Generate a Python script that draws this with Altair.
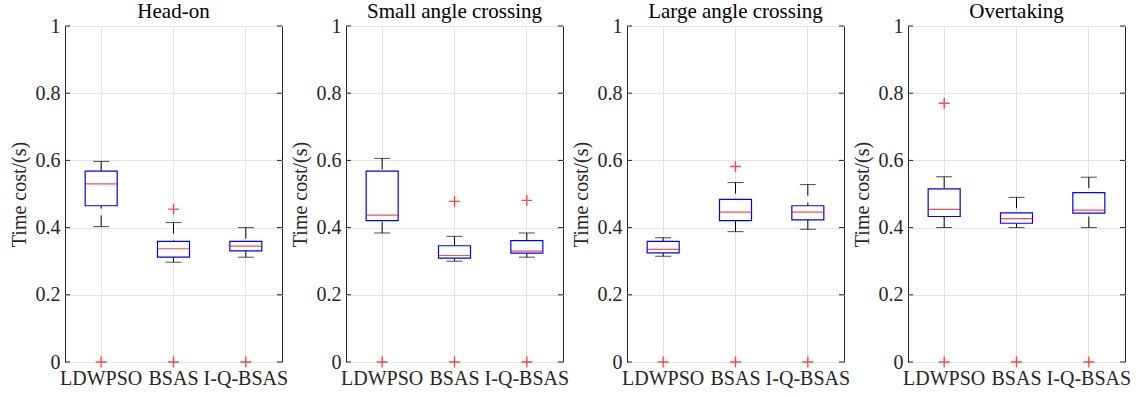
import altair as alt
import pandas as pd

# Boxplot statistics of computation time per encounter scenario and method
scenarios = ["Head-on", "Small angle crossing", "Large angle crossing", "Overtaking"]
methods = ["LDWPSO", "BSAS", "I-Q-BSAS"]

whisker_low = [
    [0.403, 0.297, 0.312],
    [0.384, 0.300, 0.312],
    [0.315, 0.388, 0.395],
    [0.400, 0.400, 0.400],
]
quartile_1 = [
    [0.465, 0.312, 0.331],
    [0.421, 0.309, 0.324],
    [0.325, 0.421, 0.423],
    [0.433, 0.413, 0.443],
]
median = [
    [0.530, 0.337, 0.345],
    [0.437, 0.317, 0.330],
    [0.335, 0.446, 0.446],
    [0.454, 0.427, 0.452],
]
quartile_3 = [
    [0.568, 0.359, 0.359],
    [0.568, 0.346, 0.361],
    [0.359, 0.484, 0.465],
    [0.515, 0.444, 0.504],
]
whisker_high = [
    [0.597, 0.415, 0.400],
    [0.606, 0.374, 0.384],
    [0.370, 0.534, 0.528],
    [0.551, 0.490, 0.550],
]
outliers = [
    [[0.0], [0.455, 0.0], [0.0]],
    [[0.0], [0.478, 0.0], [0.481, 0.0]],
    [[0.0], [0.582, 0.0], [0.0]],
    [[0.770, 0.0], [0.0], [0.0]],
]
y_ticks = [0, 0.2, 0.4, 0.6, 0.8, 1]

box_rows, out_rows = [], []
for i, s in enumerate(scenarios):
    for j, m in enumerate(methods):
        box_rows.append(dict(scenario=s, method=m, lo=whisker_low[i][j], q1=quartile_1[i][j],
                             med=median[i][j], q3=quartile_3[i][j], hi=whisker_high[i][j]))
        for v in outliers[i][j]:
            out_rows.append(dict(scenario=s, method=m, value=v))
box_df = pd.DataFrame(box_rows)
out_df = pd.DataFrame(out_rows)
tick_df = pd.DataFrame({"t": y_ticks})

FONT = "Liberation Serif"
INK = "#262626"
W, H = 217, 336
BOX_W, CAP_W = 32, 16

x_enc = alt.X(
    "method:N", sort=methods,
    scale=alt.Scale(domain=methods, paddingInner=0, paddingOuter=0),
    axis=alt.Axis(title=None, grid=True, bandPosition=0.5, ticks=False, domain=False,
                  labelPadding=6, labelAngle=0),
)
y_scale = alt.Scale(domain=[0, 1], nice=False, zero=True)
y_axis = alt.Axis(title="Time cost/(s)", values=y_ticks, format="~g", grid=True, ticks=False,
                  domain=False, labelPadding=5, titlePadding=6)


def yq(field):
    return alt.Y(field, type="quantitative", scale=y_scale, axis=y_axis)


def panel(name):
    b = alt.Chart(box_df[box_df.scenario == name])
    o = alt.Chart(out_df[out_df.scenario == name])
    t = alt.Chart(tick_df)

    upper = b.mark_rule(color="black", strokeWidth=1, strokeDash=[11, 7]).encode(
        x=x_enc, y=yq("hi"), y2="q3")
    lower = b.mark_rule(color="black", strokeWidth=1, strokeDash=[11, 7]).encode(
        x=x_enc, y=yq("lo"), y2="q1")
    cap_hi = b.mark_tick(color="black", size=CAP_W, thickness=1).encode(x=x_enc, y=yq("hi"))
    cap_lo = b.mark_tick(color="black", size=CAP_W, thickness=1).encode(x=x_enc, y=yq("lo"))
    box = b.mark_bar(size=BOX_W, fill="white", stroke="#0000ff", strokeWidth=1.2).encode(
        x=x_enc, y=yq("q1"), y2="q3")
    med = b.mark_tick(color="#ff0000", size=BOX_W, thickness=1.2).encode(x=x_enc, y=yq("med"))
    out = o.mark_point(shape="M-1,0L1,0M0,-1L0,1", filled=False, stroke="#ff0000",
                       size=120, strokeWidth=1.4).encode(x=x_enc, y=yq("value"))
    tick_l = t.mark_rule(color=INK, strokeWidth=1).encode(
        y=yq("t"), x=alt.value(0), x2=alt.value(5))
    tick_r = t.mark_rule(color=INK, strokeWidth=1).encode(
        y=yq("t"), x=alt.value(W - 5), x2=alt.value(W))

    return alt.layer(tick_l, tick_r, upper, lower, cap_hi, cap_lo, box, med, out).properties(
        width=W, height=H,
        title=alt.TitleParams(name, font=FONT, fontSize=21, fontWeight="normal",
                              color="black", offset=-6),
    )


chart = alt.hconcat(*[panel(s) for s in scenarios], spacing=0).configure_view(
    stroke=INK, strokeWidth=1
).configure_title(
    font=FONT, fontSize=21, fontWeight="normal", color="black"
).configure_axis(
    labelFont=FONT, labelFontSize=20, labelColor=INK,
    titleFont=FONT, titleFontSize=20, titleFontWeight="normal", titleColor=INK,
    gridColor="#e3e3e3", gridWidth=1,
).properties(padding={"left": 8, "right": 5, "top": 0, "bottom": 3}, background="white")

chart.save("out.html", embed_options={"renderer": "svg", "actions": False})
